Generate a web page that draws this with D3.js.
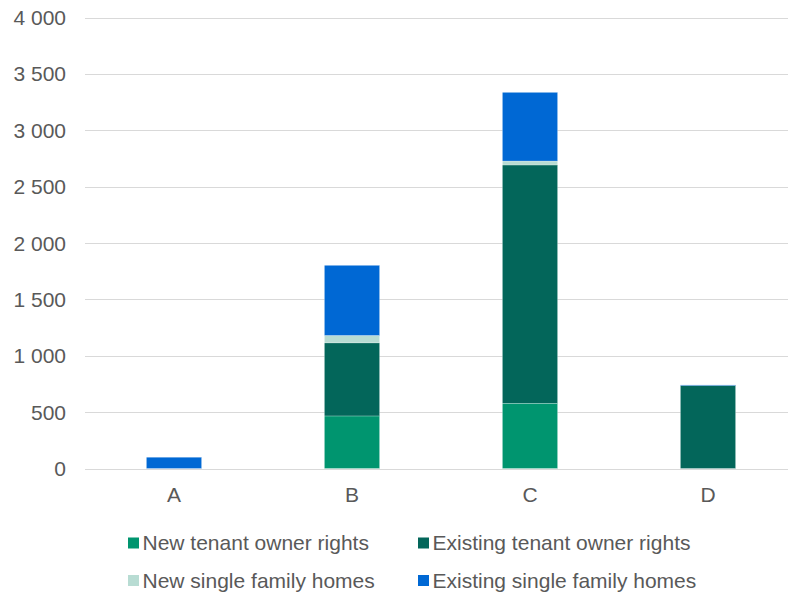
<!DOCTYPE html>
<html>
<head>
<meta charset="utf-8">
<script src="https://cdn.jsdelivr.net/npm/d3@7"></script>
<style>
  body { margin: 0; background: #fff; }
  text { font-family: Arial, "Liberation Sans", sans-serif; fill: #595959; }
</style>
</head>
<body>
<svg id="chart" width="788" height="594"></svg>
<script>
const categories = ["A", "B", "C", "D"];
const seriesNames = ["New tenant owner rights", "Existing tenant owner rights", "New single family homes", "Existing single family homes"];
const newTenant = [0, 466, 579, 0];
const existingTenant = [0, 648, 2113, 736];
const newSingle = [0, 66, 35, 0];
const existingSingle = [100, 622, 609, 5];
const yTicks = [0, 500, 1000, 1500, 2000, 2500, 3000, 3500, 4000];
const colors = ["#00956F", "#03665A", "#B8DCD3", "#0068D4"];

const svg = d3.select("#chart");

const rows = categories.map((c, i) => ({
    cat: c,
    s0: newTenant[i], s1: existingTenant[i], s2: newSingle[i], s3: existingSingle[i]
}));
const stack = d3.stack().keys(["s0", "s1", "s2", "s3"])(rows);

const x = d3.scaleBand().domain(categories).range([85, 797]).paddingInner(0.69).paddingOuter(0.345);
const y = d3.scaleLinear().domain([0, 4000]).range([468.5, 17.5]);

// gridlines
svg.append("g")
    .selectAll("line")
    .data(yTicks)
    .enter().append("line")
    .attr("x1", 85).attr("x2", 797)
    .attr("y1", d => Math.round(y(d)) + 0.5)
    .attr("y2", d => Math.round(y(d)) + 0.5)
    .style("stroke", "#d9d9d9")
    .style("stroke-width", 1);

// y labels
const fmt = d => d3.format(",")(d).replace(/,/g, " ");
svg.append("g")
    .selectAll("text")
    .data(yTicks)
    .enter().append("text")
    .attr("x", 66)
    .attr("y", d => y(d))
    .attr("dy", "0.36em")
    .attr("text-anchor", "end")
    .style("font-size", "21px")
    .text(fmt);

// bars
svg.append("g")
    .selectAll("g")
    .data(stack)
    .enter().append("g")
    .style("fill", (d, i) => colors[i])
    .selectAll("rect")
    .data(d => d)
    .enter().append("rect")
    .attr("x", d => x(d.data.cat))
    .attr("width", x.bandwidth())
    .attr("y", d => y(d[1]))
    .attr("height", d => y(d[0]) - y(d[1]))
    .style("stroke", "#fff")
    .style("stroke-width", 0.4)
    .style("stroke-opacity", 0.6);

// x labels
svg.append("g")
    .selectAll("text")
    .data(categories)
    .enter().append("text")
    .attr("x", d => x(d) + x.bandwidth() / 2)
    .attr("y", 501.5)
    .attr("text-anchor", "middle")
    .style("font-size", "21px")
    .text(d => d);

// legend
const legendPos = [[128, 537.5], [418, 537.5], [128, 575], [418, 575]];
const legend = svg.append("g")
    .selectAll("g")
    .data(seriesNames)
    .enter().append("g")
    .attr("transform", (d, i) => `translate(${legendPos[i][0]},${legendPos[i][1]})`);
legend.append("rect")
    .attr("width", 11).attr("height", 11)
    .style("fill", (d, i) => colors[i]);
legend.append("text")
    .attr("x", 14.5)
    .attr("y", 12.5)
    .style("font-size", "21px")
    .text(d => d);
</script>
</body>
</html>
